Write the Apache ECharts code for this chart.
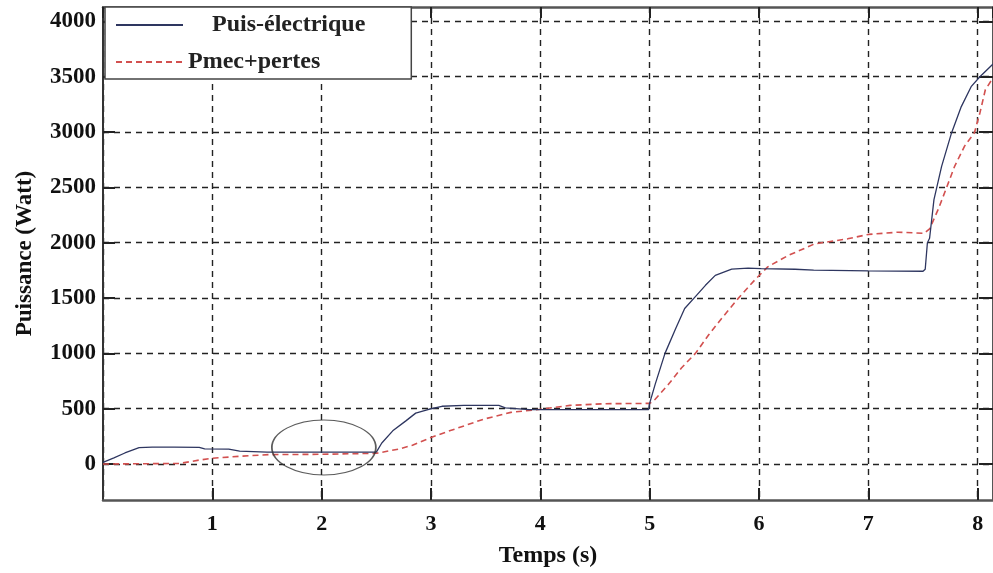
<!DOCTYPE html>
<html>
<head>
<meta charset="utf-8">
<script src="https://cdn.jsdelivr.net/npm/echarts@6/dist/echarts.min.js"></script>
<style>html,body{margin:0;padding:0;background:#fff}#c{width:993px;height:573px}</style>
</head>
<body>
<div id="c"></div>
<script>
// ---- data ----
const xTicks = [0, 1, 2, 3, 4, 5, 6, 7, 8];
const yTicks = [0, 500, 1000, 1500, 2000, 2500, 3000, 3500, 4000];
const seriesNames = ['Puis-électrique', 'Pmec+pertes'];

const puisElectrique = [
  [0, 15], [0.1, 55], [0.2, 100], [0.33, 148], [0.45, 152], [0.65, 152], [0.88, 150],
  [0.93, 137], [1.15, 135], [1.25, 116], [1.5, 108], [2.0, 107], [2.5, 107],
  [2.55, 190], [2.65, 300], [2.77, 390], [2.86, 460], [2.98, 495], [3.1, 522],
  [3.3, 530], [3.62, 530], [3.68, 508], [3.9, 492], [4.5, 492], [4.99, 492],
  [5.0, 550], [5.05, 720], [5.14, 1000], [5.24, 1230], [5.32, 1405], [5.42, 1515],
  [5.51, 1615], [5.6, 1705], [5.75, 1762], [5.9, 1770], [6.02, 1766], [6.33, 1760],
  [6.5, 1752], [7.0, 1746], [7.5, 1742], [7.52, 1760], [7.54, 2000], [7.56, 2040],
  [7.6, 2390], [7.67, 2690], [7.76, 2990], [7.85, 3230], [7.94, 3410], [8.02, 3500],
  [8.14, 3615]
];
const pmecPertes = [
  [0, 0], [0.7, 5], [0.88, 36], [1.0, 52], [1.25, 70], [1.52, 85], [2.0, 88],
  [2.5, 97], [2.71, 136], [2.83, 170], [3.0, 240], [3.17, 300], [3.48, 405],
  [3.73, 467], [4.0, 495], [4.27, 530], [4.59, 545], [5.0, 548], [5.05, 585],
  [5.17, 718], [5.29, 868], [5.42, 1002], [5.54, 1168], [5.66, 1318], [5.81, 1497],
  [5.96, 1662], [6.08, 1782], [6.27, 1886], [6.51, 1990], [6.81, 2035], [7.0, 2075],
  [7.27, 2095], [7.51, 2085], [7.56, 2125], [7.64, 2304], [7.71, 2484], [7.79, 2693],
  [7.88, 2873], [7.97, 2993], [8.02, 3172], [8.07, 3382], [8.14, 3490]
];
const ellipseMark = [[2.02, 150]];

const serif = 'Liberation Serif';
const gridDash = { color: '#222', width: 1.4, type: [6, 5] };

const chart = echarts.init(document.getElementById('c'), null, { renderer: 'canvas' });
chart.setOption({
  animation: false,
  backgroundColor: '#fff',
  grid: { left: 103, right: -2, top: 7, bottom: 70, containLabel: false },
  legend: {
    data: [{ name: seriesNames[0] }, { name: seriesNames[1] }],
    formatter: function (n) { return n === seriesNames[0] ? '    ' + n : n; },
    orient: 'vertical', left: 105, top: 7,
    padding: [5, 46, 4, 10],
    itemWidth: 67, itemHeight: 14, itemGap: 11,
    itemStyle: { opacity: 0 },
    borderColor: '#444', borderWidth: 1.5, backgroundColor: '#fff',
    textStyle: { fontFamily: serif, fontWeight: 'bold', fontSize: 24, lineHeight: 26, color: '#222' }
  },
  xAxis: [{
    type: 'value', min: 0, max: 8.14, interval: 1, position: 'bottom',
    axisLine: { show: true, onZero: false, lineStyle: { color: '#555', width: 2.5 } },
    axisTick: { show: true, inside: true, length: 12, lineStyle: { color: '#222', width: 2 } },
    axisLabel: { fontFamily: serif, fontWeight: 'bold', fontSize: 22, color: '#111', margin: 13,
      showMinLabel: false, showMaxLabel: false },
    splitLine: { show: true, lineStyle: gridDash },
    name: 'Temps (s)', nameLocation: 'middle', nameGap: 44,
    nameTextStyle: { fontFamily: serif, fontWeight: 'bold', fontSize: 24, color: '#111' }
  }, {
    type: 'value', min: 0, max: 8.14, interval: 1, position: 'top',
    axisLine: { show: true, onZero: false, lineStyle: { color: '#555', width: 2.5 } },
    axisTick: { show: true, inside: true, length: 11, lineStyle: { color: '#222', width: 2 } },
    axisLabel: { show: false }, splitLine: { show: false }
  }],
  yAxis: [{
    type: 'value', min: -325, max: 4130, position: 'left',
    axisLine: { show: true, onZero: false, lineStyle: { color: '#333', width: 2 } },
    axisTick: { show: true, inside: true, length: 12, customValues: yTicks, lineStyle: { color: '#222', width: 2 } },
    axisLabel: { customValues: yTicks, formatter: function (v) { return String(v); },
      fontFamily: serif, fontWeight: 'bold', fontSize: 23, color: '#111', margin: 7 },
    splitLine: { show: true, lineStyle: gridDash },
    name: 'Puissance (Watt)', nameLocation: 'middle', nameGap: 66,
    nameTextStyle: { fontFamily: serif, fontWeight: 'bold', fontSize: 23, color: '#111' }
  }, {
    type: 'value', min: -325, max: 4130, position: 'right',
    axisLine: { show: true, onZero: false, lineStyle: { color: '#555', width: 2 } },
    axisTick: { show: true, inside: true, length: 14, customValues: yTicks, lineStyle: { color: '#222', width: 2 } },
    axisLabel: { show: false }, splitLine: { show: false }
  }],
  series: [{
    name: seriesNames[0], type: 'line', data: puisElectrique, symbol: 'none',
    lineStyle: { color: '#2e3660', width: 1.3 }, itemStyle: { color: '#2e3660' }, z: 4
  }, {
    name: seriesNames[1], type: 'line', data: pmecPertes, symbol: 'none',
    lineStyle: { color: '#d2504f', width: 1.6, type: [6, 4] }, itemStyle: { color: '#d2504f' }, z: 3
  }, {
    name: 'ellipse', type: 'scatter', data: ellipseMark, symbol: 'circle', symbolSize: [104, 55],
    itemStyle: { color: 'rgba(0,0,0,0)', borderColor: '#333', borderWidth: 1.3 }, silent: true, z: 5
  }]
});
</script>
</body>
</html>
